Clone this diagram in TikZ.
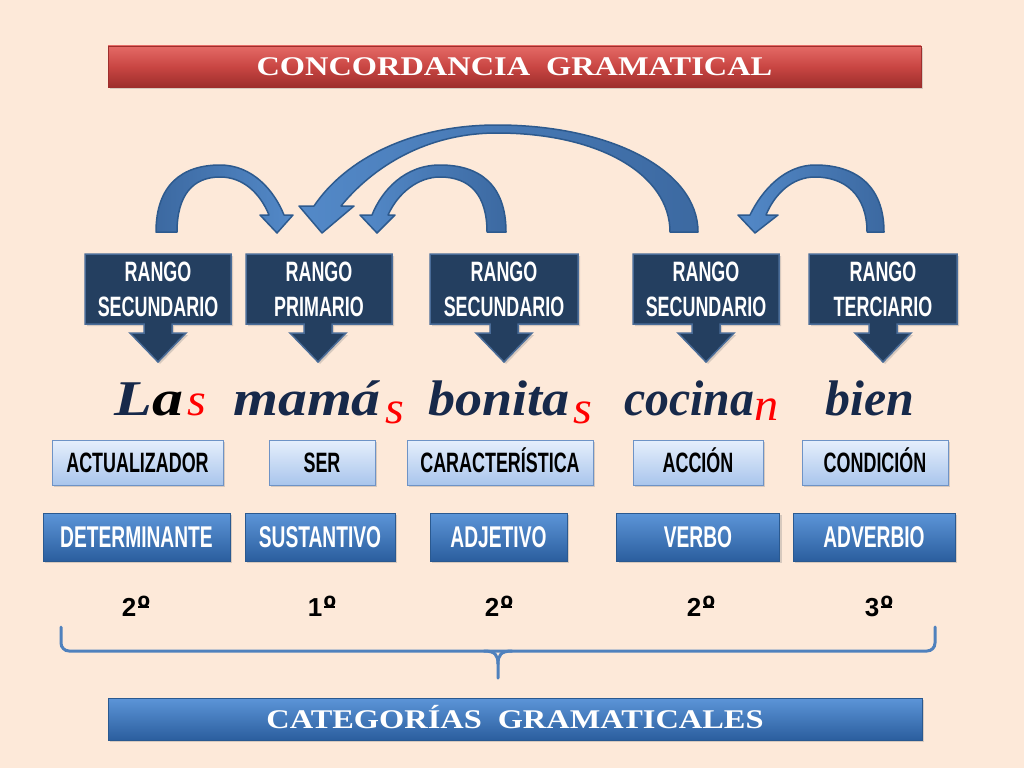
\documentclass[tikz,border=0pt]{standalone}
\usepackage{fontspec}
\usepackage{graphicx}
\usetikzlibrary{shadows}
\setmainfont{Liberation Sans}
\newfontfamily\agency[FakeStretch=0.64]{Liberation Sans}
\newfontfamily\titlefont[FakeStretch=1.2]{Liberation Serif}
\newfontfamily\wordfont[FakeStretch=1.05]{Liberation Serif}
\newcommand\ordm{\leavevmode\kern0.05em\ooalign{\raisebox{-0.12em}{\scalebox{1.3}{º}}\cr\hidewidth\rule[0.3em]{0.42em}{0.08em}\hidewidth\cr}}
\definecolor{bg}{HTML}{FDE9D9}
\definecolor{rangofill}{HTML}{243F60}
\definecolor{rangoline}{HTML}{4A6C98}
\definecolor{lighttop}{HTML}{E6EFFC}
\definecolor{lightbot}{HTML}{A9C5EC}
\definecolor{lightline}{HTML}{6E93C6}
\definecolor{darktop}{HTML}{5C95D8}
\definecolor{darkbot}{HTML}{2B5E9E}
\definecolor{darkline}{HTML}{2A5990}
\definecolor{redtop}{HTML}{E46A66}
\definecolor{redmid}{HTML}{C94643}
\definecolor{redbot}{HTML}{9E2E2C}
\definecolor{arrlight}{HTML}{5389C8}
\definecolor{arrdark}{HTML}{3C69A1}
\definecolor{arrline}{HTML}{2D5A8E}
\definecolor{navy}{HTML}{17294A}
\definecolor{bracecol}{HTML}{4F81BD}
\tikzset{
  shadowed/.style={drop shadow={opacity=0.3,shadow xshift=2pt,shadow yshift=-2pt}},
  rango/.style={fill=rangofill,draw=rangoline,line width=1.5pt,line join=miter,shadowed},
  rangotext/.style={text=white,font=\agency\bfseries\fontsize{28}{35}\selectfont,align=center,inner sep=0pt},
  lightbox/.style={draw=lightline,line width=1pt,top color=lighttop,bottom color=lightbot,
    minimum height=45,inner sep=0pt,text height=20pt,text depth=0pt,text=black,
    font=\agency\bfseries\fontsize{28}{30}\selectfont,shadowed},
  darkbox/.style={draw=darkline,line width=1pt,top color=darktop,bottom color=darkbot,
    minimum height=48,inner sep=0pt,text height=21.5pt,text depth=0pt,text=white,
    font=\agency\bfseries\fontsize{30}{32}\selectfont,shadowed},
  redbar/.style={draw=redbot,line width=0.8pt,top color=redtop,bottom color=redbot,middle color=redmid,
    minimum width=813,minimum height=41,inner sep=0pt,text=white,text height=18pt,text depth=0pt,
    font=\titlefont\bfseries\fontsize{27}{30}\selectfont,shadowed},
  bluebar/.style={draw=darkline,line width=0.8pt,top color=darktop,bottom color=darkbot,
    minimum width=814,minimum height=42,inner sep=0pt,text=white,text height=18pt,text depth=0pt,
    font=\titlefont\bfseries\fontsize{27}{30}\selectfont,shadowed},
  carrow/.style={draw=arrline,line width=1.5pt,line join=round},
  word/.style={anchor=base west,inner sep=0pt,text=navy,font=\wordfont\bfseries\itshape\fontsize{50}{55}\selectfont},
  redletter/.style={word,text=red,font=\wordfont\itshape\fontsize{46}{50}\selectfont},
  rank/.style={font=\bfseries\fontsize{26}{28}\selectfont,text=black,inner sep=0pt},
  bracel/.style={draw=bracecol,line width=3pt,line cap=round}
}
\newcommand\rcallout[3]{%
  \path[rango] (#1,254) -- (#2,254) -- (#2,324) -- ({#3+14},324) -- ({#3+14},333) -- ({#3+28},333)
   -- (#3,362) -- ({#3-28},333) -- ({#3-14},333) -- ({#3-14},324) -- (#1,324) -- cycle;}
\begin{document}
\begin{tikzpicture}[x=1pt,y=-1pt]
\useasboundingbox (0,0) rectangle (1024,768);
\fill[bg] (0,0) rectangle (1024,768);

% title
\node[redbar] (title) at (514.5,66.5) {CONCORDANCIA\hspace{16pt}GRAMATICAL};

% curved arrows
\path[carrow,left color=arrlight,right color=arrdark]
  (698,232) .. controls (698,170) and (610,125) .. (497,125)
  .. controls (410,125) and (345,160) .. (314,206) -- (299,206) -- (322,233) -- (354,206) -- (341,206)
  .. controls (372,168) and (425,133) .. (497,133)
  .. controls (600,133) and (670,175) .. (670,232) -- cycle;
\path[carrow,left color=arrdark,right color=arrlight]
  (156,232) .. controls (156,185) and (182,165) .. (220,165)
  .. controls (252,165) and (274,190) .. (284,215) -- (293,215) -- (277,233) -- (260,215) -- (269,215)
  .. controls (260,193) and (243,177) .. (220,177)
  .. controls (193,177) and (177,195) .. (177,232) -- cycle;
\path[carrow,left color=arrlight,right color=arrdark]
  (506,232) .. controls (506,185) and (480,165) .. (440,165)
  .. controls (405,165) and (382,190) .. (372,215) -- (360,215) -- (377,233) -- (395,215) -- (388,215)
  .. controls (398,193) and (418,177) .. (440,177)
  .. controls (470,177) and (487,195) .. (487,232) -- cycle;
\path[carrow,left color=arrlight,right color=arrdark]
  (884,232) .. controls (884,185) and (855,165) .. (815,165)
  .. controls (785,165) and (762,190) .. (750,215) -- (738,215) -- (755,233) -- (778,215) -- (766,215)
  .. controls (775,193) and (793,177) .. (815,177)
  .. controls (845,177) and (867,195) .. (867,232) -- cycle;

% rango callouts
\rcallout{85}{231}{158}
\rcallout{246}{392}{318}
\rcallout{430}{578}{504}
\rcallout{633}{779}{706}
\rcallout{809}{957}{883}
\node[rangotext] (r1) at (158,289.5) {RANGO\\SECUNDARIO};
\node[rangotext] (r2) at (319,289.5) {RANGO\\PRIMARIO};
\node[rangotext] (r3) at (504,289.5) {RANGO\\SECUNDARIO};
\node[rangotext] (r4) at (706,289.5) {RANGO\\SECUNDARIO};
\node[rangotext] (r5) at (883,289.5) {RANGO\\TERCIARIO};

% sentence
\node[word] (w1) at (114,415) {\scalebox{1.18}[1]{L{\color{black}a}}};
\node[redletter] (s1) at (187,415) {s};
\node[word] (w2) at (233,415) {\scalebox{1.1}[1]{mamá}};
\node[redletter] (s2) at (385,423) {s};
\node[word] (w3) at (428,415) {\scalebox{1.03}[1]{bonita}};
\node[redletter] (s3) at (573,423) {s};
\node[word] (w4) at (624,415) {\scalebox{0.91}[1]{cocina}};
\node[redletter] (s4) at (754,420) {n};
\node[word] (w5) at (825,415) {\scalebox{0.95}[1]{bien}};

% light boxes
\node[lightbox,minimum width=171] (l1) at (137.5,462.5) {ACTUALIZADOR};
\node[lightbox,minimum width=106] (l2) at (322,462.5) {SER};
\node[lightbox,minimum width=186] (l3) at (500,462.5) {CARACTERÍSTICA};
\node[lightbox,minimum width=130] (l4) at (698,462.5) {ACCIÓN};
\node[lightbox,minimum width=146] (l5) at (875,462.5) {CONDICIÓN};

% dark boxes
\node[darkbox,minimum width=187] (d1) at (136.5,537) {DETERMINANTE};
\node[darkbox,minimum width=150] (d2) at (320,537) {SUSTANTIVO};
\node[darkbox,minimum width=137] (d3) at (498.5,537) {ADJETIVO};
\node[darkbox,minimum width=163] (d4) at (698,537) {VERBO};
\node[darkbox,minimum width=162] (d5) at (874,537) {ADVERBIO};

% ranks
\node[rank] (n1) at (136,606) {2\ordm};
\node[rank] (n2) at (322,606) {1\ordm};
\node[rank] (n3) at (499,606) {2\ordm};
\node[rank] (n4) at (701,606) {2\ordm};
\node[rank] (n5) at (879,606) {3\ordm};

% brace
\coordinate (bl) at (61,627);
\coordinate (br) at (935,627);
\coordinate (bm) at (498,678);
\draw[bracel,rounded corners=8pt] (bl) -- (61,651) -- (935,651) -- (br);
\draw[bracel] (484,651) .. controls (495,651) and (498,655) .. (498,664) -- (bm);
\draw[bracel] (512,651) .. controls (501,651) and (498,655) .. (498,664);

% bottom bar
\node[bluebar] (cat) at (515,719) {CATEGORÍAS\hspace{16pt}GRAMATICALES};
\end{tikzpicture}
\end{document}
